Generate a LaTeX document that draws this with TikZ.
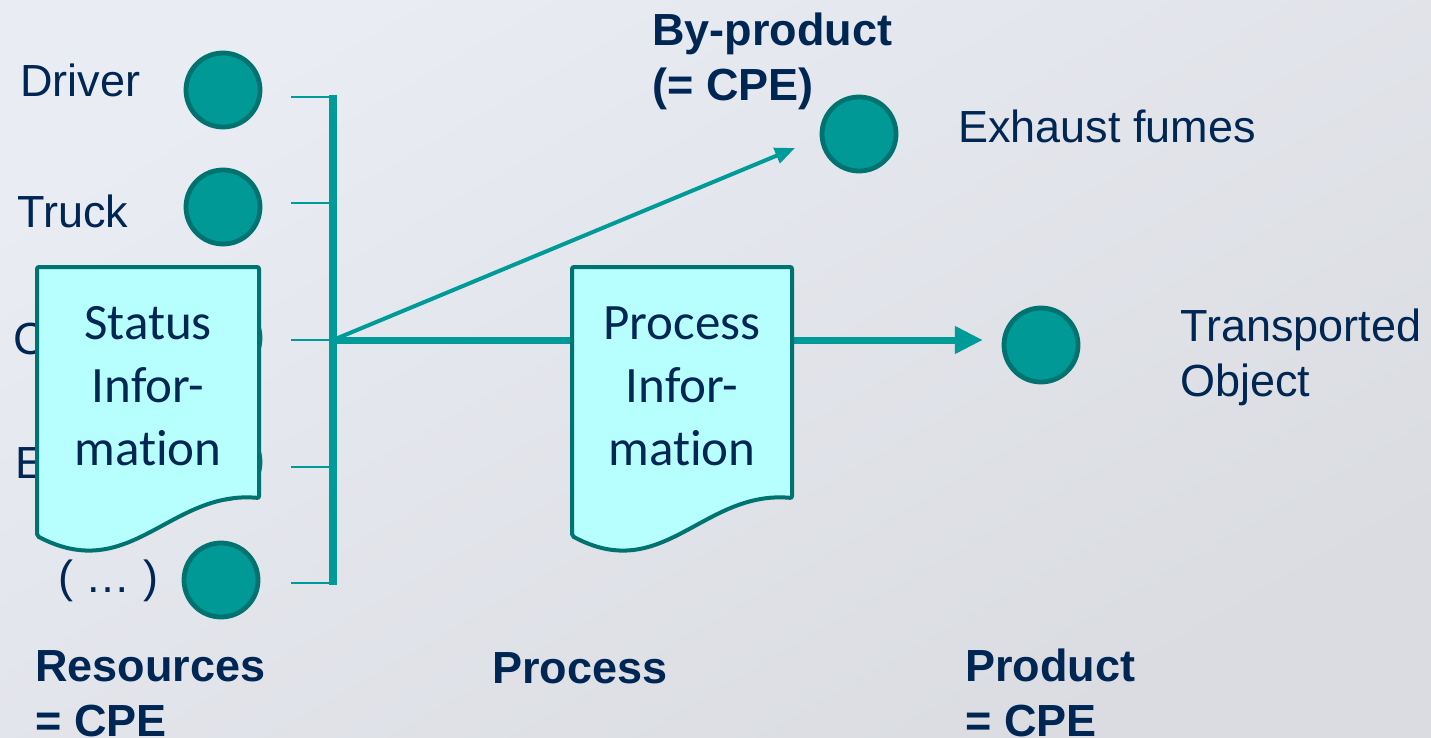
\documentclass[tikz,border=0pt]{standalone}
\usepackage{fontspec}
\setmainfont{Liberation Sans}
\newfontfamily\calfont[Ligatures=NoCommon]{Carlito}
\usetikzlibrary{arrows.meta}
\definecolor{navy}{RGB}{0,38,84}
\definecolor{tealfill}{RGB}{0,153,150}
\definecolor{tealdark}{RGB}{0,114,112}
\definecolor{tealline}{RGB}{0,155,152}
\definecolor{docfill}{RGB}{183,255,255}
\definecolor{bgA}{RGB}{233,236,243}
\definecolor{bgB}{RGB}{218,220,225}
\begin{document}
\begin{tikzpicture}[x=0.75pt,y=-0.75pt,
  res/.style={circle,draw=tealdark,fill=tealfill,line width=3.6pt,minimum size=55.5pt,inner sep=0pt},
  lbl/.style={anchor=base west,text=navy,font=\fontsize{33.75}{41.25}\selectfont,inner sep=0pt,align=left},
  blbl/.style={lbl,font=\fontsize{33.75}{41.25}\selectfont\bfseries},
  doc/.style={draw=tealdark,fill=docfill,line width=3pt,rounded corners=1.5pt},
  doctext/.style={text=navy,font=\calfont\fontsize{38.25}{47.25}\selectfont,align=center,inner sep=0pt},
  tick/.style={draw=tealline,line width=1.5pt},
  bracket/.style={draw=tealline,line width=6pt},
  mainarrow/.style={draw=tealline,line width=5.25pt,-{Triangle[length=21pt,width=19.5pt]}},
  diagarrow/.style={draw=tealline,line width=3pt,-{Triangle[length=15pt,width=12pt]}}
]
\useasboundingbox (0,0) rectangle (1431,738);
\shade[top color=bgA,bottom color=bgB,shading angle=30] (0,0) rectangle (1431,738);

% resources
\node[res] (cdriver) at (223,90) {};
\node[res] (ctruck) at (223,207) {};
\node[res] (cc) at (223,338) {};
\node[res] (ce) at (223,462) {};
\node[res] (cdots) at (221,580) {};
\node[res] (exh) at (859,134) {};
\node[res] (obj) at (1041,345) {};

\node[lbl] (ldriver) at (20,97) {Driver};
\node[lbl] (ltruck) at (17,227) {Truck};
\node[lbl] (lc) at (13,354) {C};
\node[lbl] (le) at (15,478) {E};
\node[lbl] (ldots) at (58,592) {( … )};

\node[blbl] (lbyp) at (652,101) {By-product\\(= CPE)};
\node[lbl] (lexh) at (958,143) {Exhaust fumes};
\node[lbl] (lobj) at (1180,396) {Transported\\Object};
\node[blbl] (lres) at (35,736) {Resources\\= CPE};
\node[blbl] (lproc) at (492,683) {Process};
\node[blbl] (lprod) at (965,736) {Product\\= CPE};

% bracket
\coordinate (bt) at (333,95);
\coordinate (bb) at (333,585);
\coordinate (junc) at (333,340);
\coordinate (t1) at (291,97);
\coordinate (t2) at (291,203);
\coordinate (t3) at (291,340);
\coordinate (t4) at (291,467);
\coordinate (t5) at (291,583);
\coordinate (bytip) at (795,148);
\draw[bracket] (bt) -- (bb);
\foreach \t in {t1,t2,t3,t4,t5} \draw[tick] (\t) -- (\t -| bt);

\draw[diagarrow] (junc) -- (bytip);
\draw[mainarrow,shorten >=14pt] (junc) -- (junc -| obj.west);

% documents
\draw[doc] (37,267) -- (259,267) -- (259,498) .. controls (170,490) and (130,585) .. (37,536) -- cycle;
\node[doctext] (status) at (148,386) {Status\\Infor-\\mation};
\draw[doc] (572,267) -- (792,267) -- (792,498) .. controls (703,490) and (663,585) .. (572,536) -- cycle;
\node[doctext] (procinfo) at (682,386) {Process\\Infor-\\mation};
\end{tikzpicture}
\end{document}
